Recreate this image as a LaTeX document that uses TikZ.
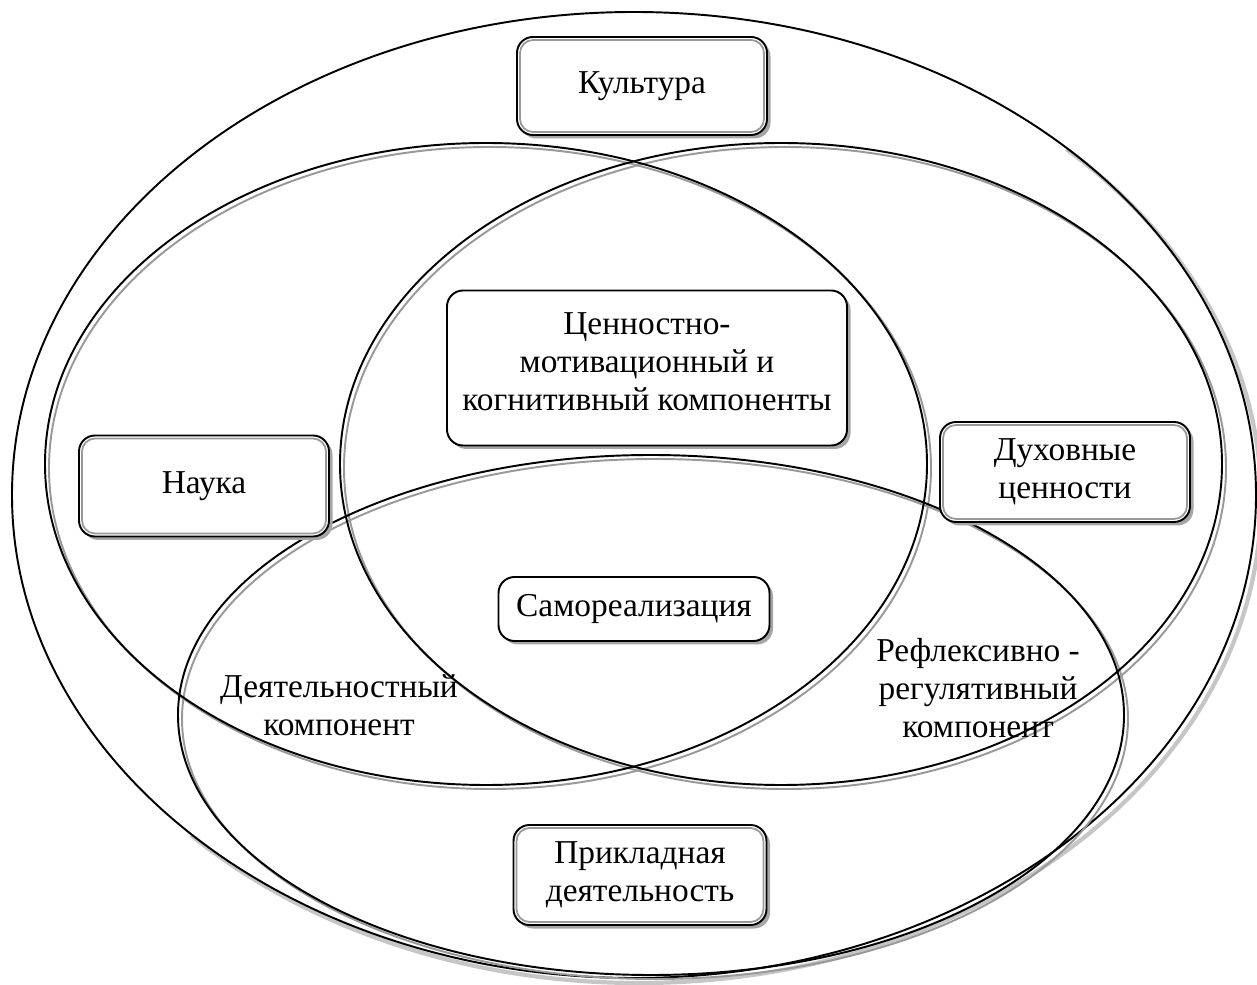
\documentclass[tikz,border=0pt]{standalone}
\usepackage{fontspec}
\setmainfont{Liberation Serif}
\usetikzlibrary{positioning,calc,shadows}

\begin{document}
\begin{tikzpicture}[
      every node/.style={font=\fontsize{19}{21.5}\selectfont},
      box/.style={rectangle,draw,line width=1.1pt,rounded corners=0.32cm,fill=white,align=center,
                  drop shadow={shadow xshift=0.07cm,shadow yshift=-0.07cm,fill=gray!70,opacity=1}},
      inbox/.style={draw=gray!80,line width=1pt,rounded corners=0.26cm},
      ring/.style={line width=1.1pt},
      ringsh/.style={line width=1.1pt,gray!80},
      lbl/.style={align=center}
  ]
  \useasboundingbox (0,0) rectangle (25.14,-19.70);

  % ===================== ellipses =====================
  \begin{scope}
    \clip (0,-19.70) -- (25.14,0) -- (25.14,-19.70) -- cycle;
    \draw[line width=2.4pt,gray!45] (12.78,-10.00) ellipse (12.44 and 9.66);
  \end{scope}
  \draw[ring] (12.68,-9.90) ellipse (12.44 and 9.66);

  % gray copies first
  \draw[ringsh] (9.80,-9.36) ellipse (8.82 and 6.42);
  \draw[ringsh] (15.70,-9.36) ellipse (8.82 and 6.42);
  \draw[ringsh] (13.10,-14.38) ellipse (9.46 and 5.20);
  % black lines
  \draw[ring] (9.72,-9.28) ellipse (8.82 and 6.42);
  \draw[ring] (15.62,-9.28) ellipse (8.82 and 6.42);
  \draw[ring] (13.02,-14.30) ellipse (9.46 and 5.20);

  % ===================== outer boxes =====================
  \node[box,minimum width=5.0cm,minimum height=1.96cm] (kult) at (12.84,-1.72) {Культура};
  \node[box,minimum width=5.0cm,minimum height=2.02cm] (nauka) at (4.08,-9.72) {Наука};
  \node[box,minimum width=5.0cm,minimum height=2.0cm] (dukh) at (21.30,-9.44) {Духовные\\ценности};
  \node[box,minimum width=5.06cm,minimum height=2.0cm] (prikl) at (12.80,-17.50) {Прикладная\\деятельность};

  % inner gray frames
  \foreach \n in {kult,nauka,dukh,prikl}
    \draw[inbox] ([xshift=0.08cm,yshift=0.08cm]\n.south west) rectangle ([xshift=-0.08cm,yshift=-0.08cm]\n.north east);

  % ===================== inner boxes =====================
  \node[box,minimum width=8.0cm,minimum height=3.1cm,text depth=0.25cm] (cennost) at (12.94,-7.36)
      {Ценностно-\\мотивационный и\\когнитивный компоненты};
  \node[box,minimum width=5.42cm,minimum height=1.28cm] (samo) at (12.68,-12.18) {Самореализация};

  % ===================== labels =====================
  \node[lbl] (deyat) at (6.78,-14.10) {Деятельностный\\компонент};
  \node[lbl] (refl) at (19.56,-13.76) {Рефлексивно -\\регулятивный\\компонент};

\end{tikzpicture}
\end{document}
